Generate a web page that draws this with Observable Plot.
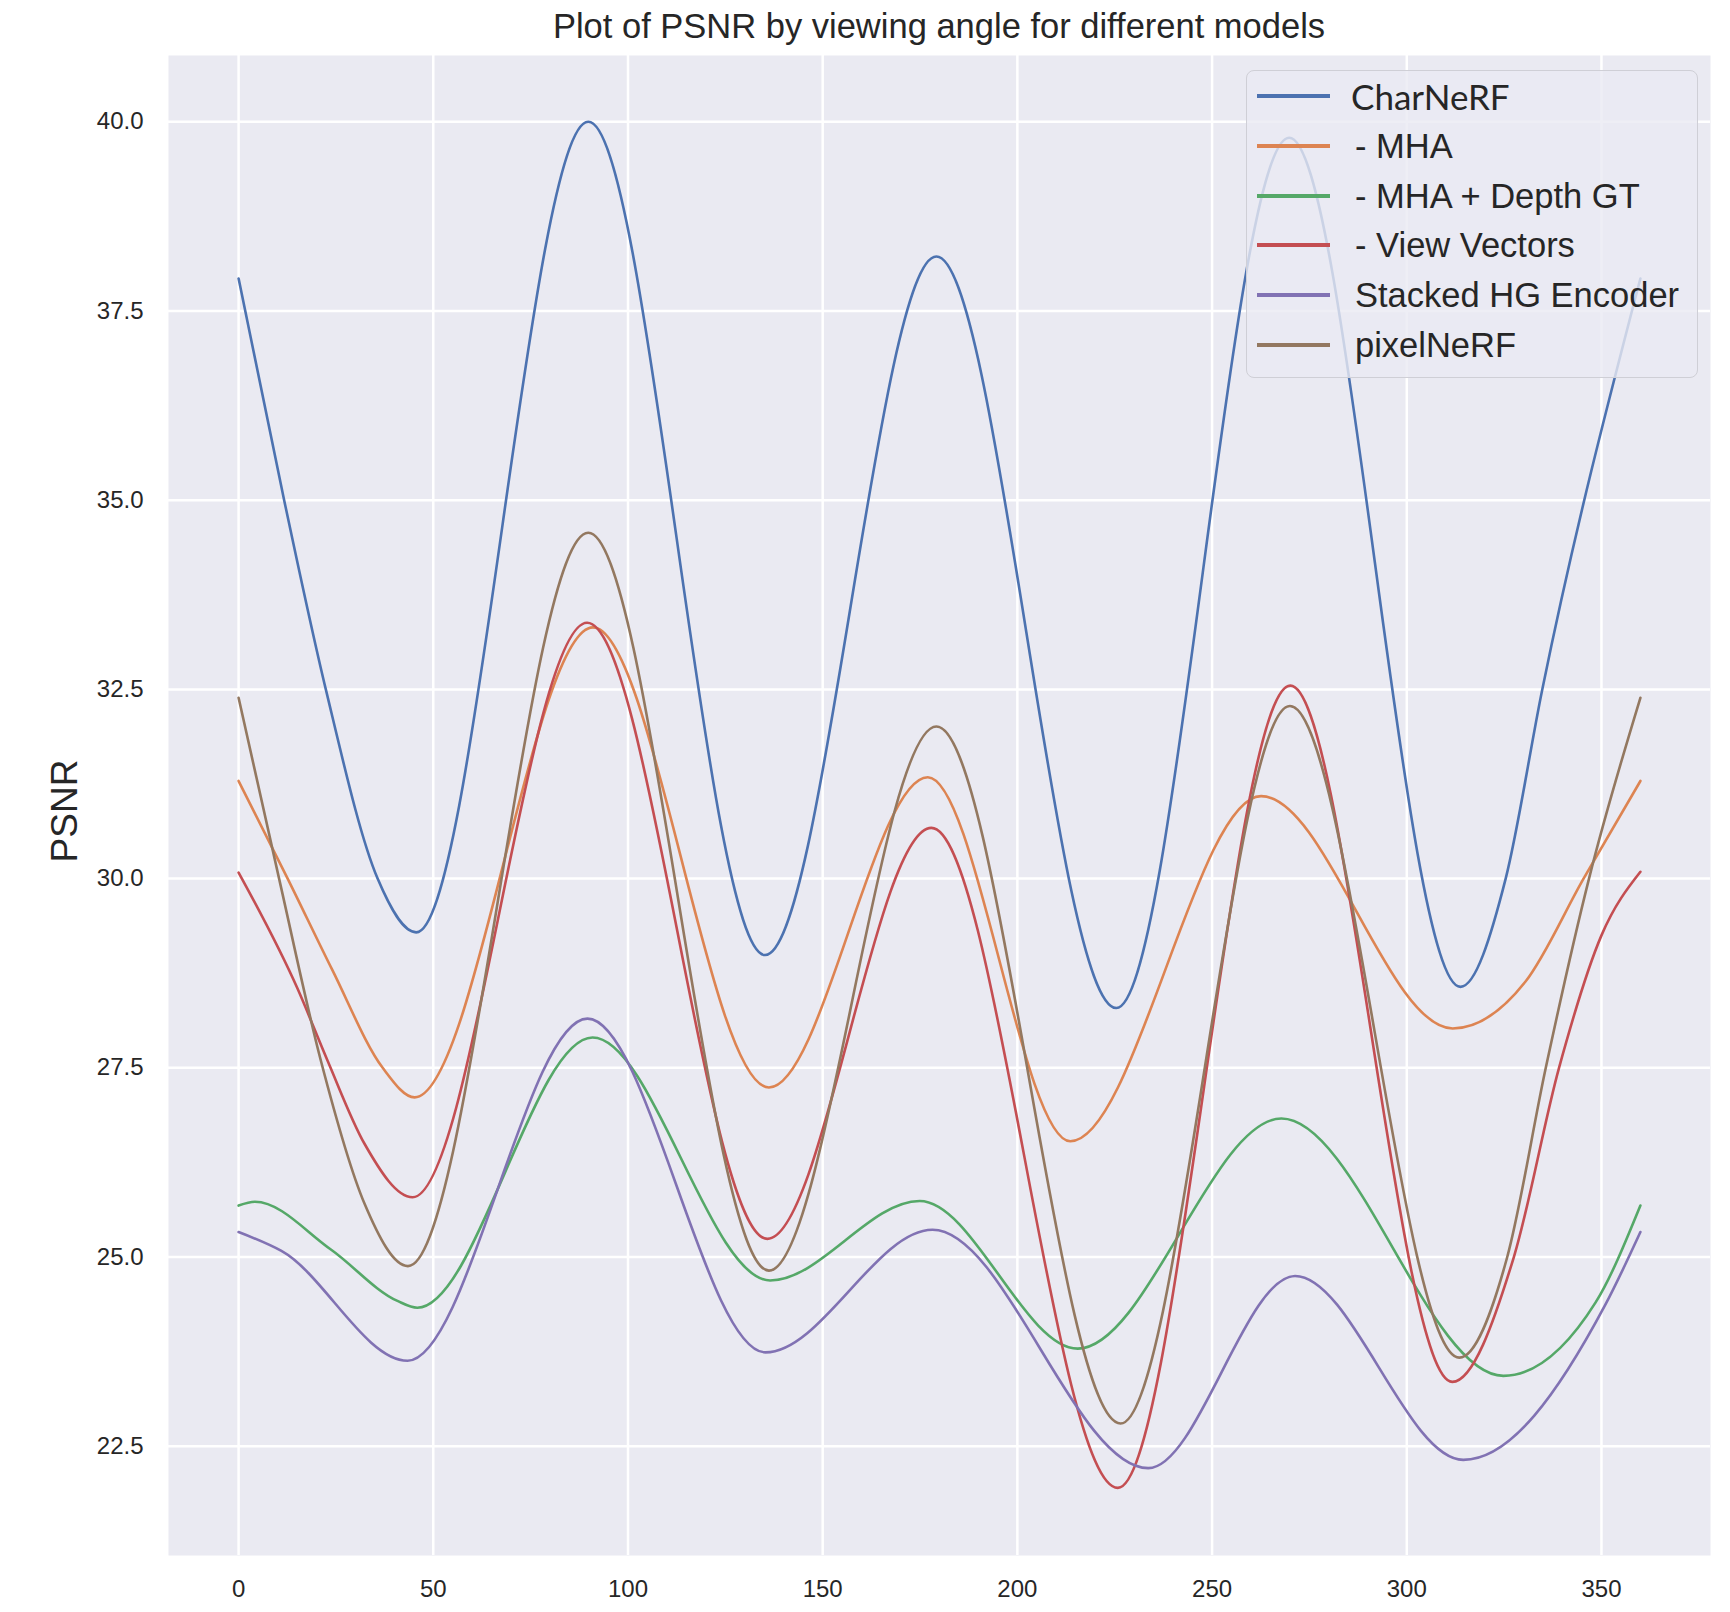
<!DOCTYPE html>
<html>
<head>
<meta charset="utf-8">
<script src="https://cdn.jsdelivr.net/npm/d3@7"></script>
<script src="https://cdn.jsdelivr.net/npm/@observablehq/plot@0.6"></script>
<style>
  body { margin: 0; background: #ffffff; }
  #wrap { position: relative; width: 1730px; height: 1612px; font-family: "Liberation Sans", Arial, sans-serif; color: #262626; }
  #title { position: absolute; left: 168px; width: 1542px; top: 0; height: 55px; line-height: 52px; text-align: center; font-size: 34.5px; }
  #chart { position: absolute; left: 0; top: 55px; }
  #ylab { position: absolute; left: 64px; top: 811px; transform: translate(-50%, -50%) rotate(-90deg); font-size: 37px; line-height: 1; white-space: nowrap; }
  #legend { position: absolute; left: 1246px; top: 70px; width: 452px; height: 308px; box-sizing: border-box;
            border: 1.5px solid #cfcfd6; border-radius: 8px; background: rgba(234,234,242,0.8); }
  .row { position: absolute; left: 0; width: 100%; height: 50px; }
  .sw { position: absolute; left: 10px; top: 23px; width: 73px; height: 4px; }
  .lab { position: absolute; left: 108px; top: 0; height: 50px; line-height: 50px; font-size: 34.5px; white-space: nowrap; }
  .lab.cal { font-family: Lato, "Open Sans", sans-serif; font-size: 35px; left: 104px; }
</style>
</head>
<body>
<div id="wrap">
  <div id="title"></div>
  <div id="chart"></div>
  <div id="ylab"></div>
  <div id="legend"></div>
</div>
<script>
// ---- data ----
const titleText = "Plot of PSNR by viewing angle for different models";
const yLabel = "PSNR";
const models = ["CharNeRF", "- MHA", "- MHA + Depth GT", "- View Vectors", "Stacked HG Encoder", "pixelNeRF"];
const colors = ["#4C72B0", "#DD8452", "#55A868", "#C44E52", "#8172B3", "#937860"];
const xTicks = [0, 50, 100, 150, 200, 250, 300, 350];
const yTicks = [22.5, 25.0, 27.5, 30.0, 32.5, 35.0, 37.5, 40.0];

const charnerfAngle = [0, 11.7, 22.4, 35.7, 45.6, 89.8, 135.2, 179.2, 225.4, 269.8, 313.8, 325.4, 334.8, 360];
const charnerfPSNR  = [37.93, 35, 32.5, 30, 29.29, 40.0, 28.99, 38.22, 28.29, 39.79, 28.57, 30, 32.5, 37.93];

const mhaAngle = [0, 12.6, 24, 37, 45.2, 91, 136.2, 177, 213.6, 262.6, 311.8, 330.5, 345.4, 360];
const mhaPSNR  = [31.29, 30.0, 28.8, 27.5, 27.11, 33.32, 27.24, 31.34, 26.53, 31.09, 28.02, 28.64, 30.0, 31.29];

const depthAngle = [0, 4.2, 23.7, 40.8, 45.9, 90.9, 136.5, 174.9, 215.5, 267.8, 324.8, 348.5, 360];
const depthPSNR  = [25.68, 25.73, 25.1, 24.42, 24.33, 27.9, 24.69, 25.74, 23.79, 26.83, 23.43, 24.4, 25.68];

const viewAngle = [0, 15.1, 22.8, 32.3, 44.7, 89.5, 135.8, 177.9, 225.8, 270.1, 311.7, 327.5, 339.1, 350, 360];
const viewPSNR  = [30.08, 28.55, 27.6, 26.5, 25.79, 33.38, 25.24, 30.67, 21.95, 32.55, 23.35, 25.0, 27.5, 29.25, 30.09];

const stackedAngle = [0, 11, 43.4, 89.6, 135.3, 178.2, 233.6, 271.3, 314.5, 351, 360];
const stackedPSNR  = [25.33, 25.08, 23.63, 28.15, 23.74, 25.36, 22.21, 24.75, 22.32, 24.37, 25.33];

const pixelAngle = [0, 10.4, 21.1, 32.3, 43.5, 89.8, 136.2, 179.2, 226.5, 270, 313.5, 325.8, 335.7, 346.8, 360];
const pixelPSNR  = [32.39, 30.0, 27.6, 25.71, 24.88, 34.57, 24.82, 32.01, 22.80, 32.28, 23.67, 25.0, 27.5, 30.0, 32.39];

// ---- build table ----
const seriesAngles = [charnerfAngle, mhaAngle, depthAngle, viewAngle, stackedAngle, pixelAngle];
const seriesValues = [charnerfPSNR, mhaPSNR, depthPSNR, viewPSNR, stackedPSNR, pixelPSNR];
const rows = [];
models.forEach((m, i) => {
  seriesAngles[i].forEach((a, j) => rows.push({model: m, angle: a, psnr: seriesValues[i][j]}));
});

document.getElementById("title").textContent = titleText;
document.getElementById("ylab").textContent = yLabel;

const chart = Plot.plot({
  width: 1730,
  height: 1557,
  marginTop: 0,
  marginLeft: 168,
  marginRight: 20,
  marginBottom: 57,
  style: {fontSize: "24px", fontFamily: "'Liberation Sans', Arial, sans-serif", color: "#262626", background: "transparent", overflow: "visible"},
  x: {domain: [-18, 378], label: null},
  y: {domain: [21.056, 40.876], label: null},
  color: {domain: models, range: colors},
  marks: [
    Plot.frame({fill: "#EAEAF2", stroke: "none"}),
    Plot.gridX(xTicks, {stroke: "#ffffff", strokeOpacity: 1, strokeWidth: 2.5}),
    Plot.gridY(yTicks, {stroke: "#ffffff", strokeOpacity: 1, strokeWidth: 2.5}),
    Plot.axisX(xTicks, {tickSize: 0, tickPadding: 24, fontSize: 24, fill: "#262626", tickFormat: d => String(d), label: null}),
    Plot.axisY(yTicks, {tickSize: 0, tickPadding: 25, fontSize: 24, fill: "#262626", tickFormat: d => d.toFixed(1), label: null}),
    Plot.line(rows, {x: "angle", y: "psnr", z: "model", stroke: "model", curve: "monotone-x", strokeWidth: 2.6})
  ]
});
document.getElementById("chart").appendChild(chart);

// ---- legend ----
const legend = document.getElementById("legend");
models.forEach((m, i) => {
  const row = document.createElement("div");
  row.className = "row";
  row.style.top = (i * 49.8) + "px";
  const sw = document.createElement("div");
  sw.className = "sw";
  sw.style.background = colors[i];
  const lab = document.createElement("div");
  lab.className = (m === "CharNeRF") ? "lab cal" : "lab";
  lab.textContent = m;
  row.appendChild(sw);
  row.appendChild(lab);
  legend.appendChild(row);
});
</script>
</body>
</html>
